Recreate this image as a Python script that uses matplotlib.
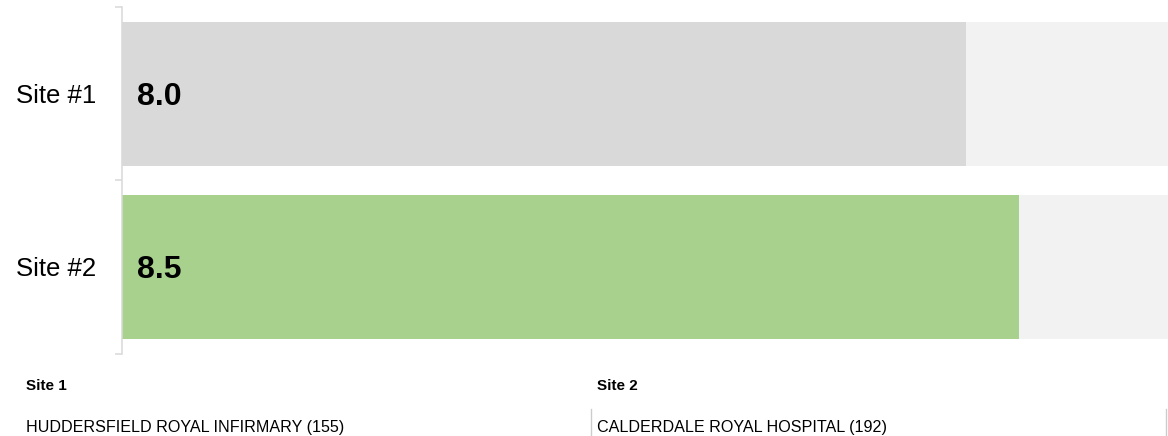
import matplotlib
matplotlib.use('Agg')
import matplotlib.pyplot as plt
from matplotlib.lines import Line2D

plt.rcParams['font.family'] = ['Liberation Sans', 'DejaVu Sans']

# Data
sites = ['Site #1', 'Site #2']
scores = [8.0, 8.5]
bar_colors = ['#d9d9d9', '#a9d18e']
max_score = 10
footer_titles = ['Site 1', 'Site 2']
footer_names = ['HUDDERSFIELD ROYAL INFIRMARY (155)', 'CALDERDALE ROYAL HOSPITAL (192)']

W, H = 1168, 436
fig = plt.figure(figsize=(W / 100, H / 100), dpi=100)
ax = fig.add_axes([121.5 / W, (H - 353.5) / H, (1177 - 121.5) / W, 346 / H])

ypos = list(range(len(sites)))
ax.barh(ypos, [max_score] * len(sites), height=0.835, color='#f2f2f2')
ax.barh(ypos, scores, height=0.835, color=bar_colors)

for y, s in zip(ypos, scores):
    ax.text(0.15, y, f'{s:.1f}', va='center_baseline', ha='left',
            fontsize=23, fontweight='bold', color='black')
    ax.text(-0.24, y, sites[y], va='center_baseline', ha='right', fontsize=18.5, color='black')

ax.set_xlim(0, max_score)
ax.set_ylim(1.5, -0.5)
ax.set_xticks([])
ax.set_yticks([-0.5, 0.5, 1.5])
ax.set_yticklabels([])
ax.tick_params(axis='y', length=5, width=1.1, color='#d9d9d9')
for side in ['top', 'right', 'bottom']:
    ax.spines[side].set_visible(False)
ax.spines['left'].set_color('#d9d9d9')
ax.spines['left'].set_linewidth(1.1)

# Footer with site names
footer_x = [26, 597]
for x, t, n in zip(footer_x, footer_titles, footer_names):
    fig.text(x / W, (H - 386) / H, t, fontsize=11, fontweight='bold', va='center')
    fig.text(x / W, (H - 427) / H, n, fontsize=11.6, va='center')

for x in [591, 1166]:
    fig.add_artist(Line2D([x / W, x / W], [0, (H - 409) / H], color='#cccccc', lw=1))

plt.savefig('out.png', dpi=100)
